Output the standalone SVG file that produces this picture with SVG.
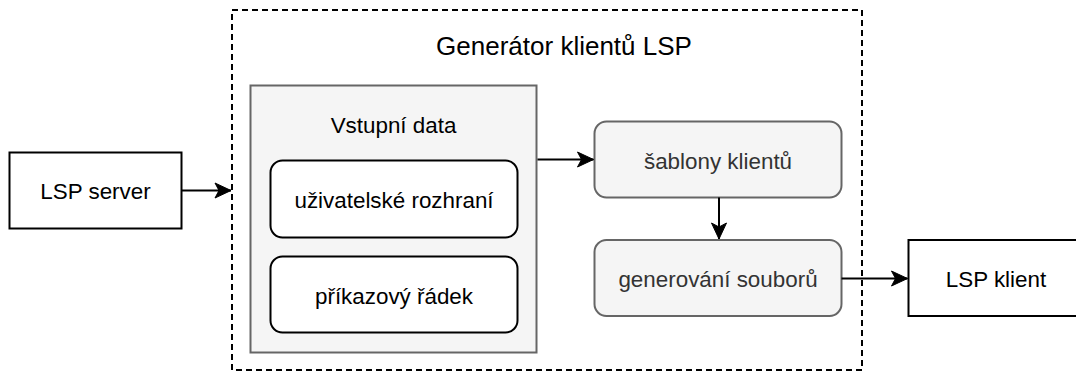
<svg xmlns="http://www.w3.org/2000/svg" width="1076" height="372" viewBox="0 0 1076 372">
  <style>
    text { font-family: "Liberation Sans", Arial, Helvetica, sans-serif; font-size: 22.4px; text-anchor: middle; fill: #000; }
    .plain { fill: #ffffff; stroke: #000; stroke-width: 2; }
    .gray { fill: #f5f5f5; stroke: #666666; stroke-width: 2; }
    .gtxt { fill: #333333; }
    .edge { fill: none; stroke: #000; stroke-width: 2; }
    .container { fill: none; stroke: #000; stroke-width: 2; stroke-dasharray: 6 4; }
  </style>
  <defs>
    <marker id="arrow" markerUnits="userSpaceOnUse" markerWidth="20" markerHeight="20" viewBox="-18 -10 20 20" refX="0" refY="0" orient="auto">
      <path d="M0,0 L-16,-7.5 L-12,0 L-16,7.5 Z" fill="#000" stroke="#000" stroke-width="1"/>
    </marker>
  </defs>

  <g id="container">
    <rect class="container" x="232" y="10" width="630" height="360"/>
    <text x="564" y="55" style="font-size:26px">Generátor klientů LSP</text>
  </g>

  <g id="lsp-server">
    <rect class="plain" x="9.5" y="152.5" width="172" height="76"/>
    <text x="95.5" y="199">LSP server</text>
  </g>

  <g id="vstupni-data">
    <rect class="gray" x="250.5" y="85.5" width="286" height="267"/>
    <text x="393.5" y="132.5">Vstupní data</text>
  </g>

  <g id="uzivatelske-rozhrani">
    <rect class="plain" x="270.5" y="160.5" width="247" height="77" rx="12" ry="12"/>
    <text x="394" y="207.5">uživatelské rozhraní</text>
  </g>

  <g id="prikazovy-radek">
    <rect class="plain" x="270.5" y="256.5" width="247" height="76" rx="12" ry="12"/>
    <text x="394" y="303.5">příkazový řádek</text>
  </g>

  <g id="sablony-klientu">
    <rect class="gray" x="594.5" y="121.5" width="247" height="76" rx="12" ry="12"/>
    <text class="gtxt" x="718" y="169">šablony klientů</text>
  </g>

  <g id="generovani-souboru">
    <rect class="gray" x="594.5" y="240" width="247" height="76" rx="12" ry="12"/>
    <text class="gtxt" x="718" y="286.5">generování souborů</text>
  </g>

  <g id="lsp-klient">
    <rect class="plain" x="908.5" y="240" width="175" height="76"/>
    <text x="996" y="286.5">LSP klient</text>
  </g>

  <g id="connectors">
    <line class="edge" x1="181.5" y1="190.5" x2="231" y2="190.5" marker-end="url(#arrow)"/>
    <line class="edge" x1="537.5" y1="159.5" x2="593.5" y2="159.5" marker-end="url(#arrow)"/>
    <line class="edge" x1="719" y1="197.5" x2="719" y2="239" marker-end="url(#arrow)"/>
    <line class="edge" x1="841.5" y1="278.5" x2="907.5" y2="278.5" marker-end="url(#arrow)"/>
  </g>
</svg>
